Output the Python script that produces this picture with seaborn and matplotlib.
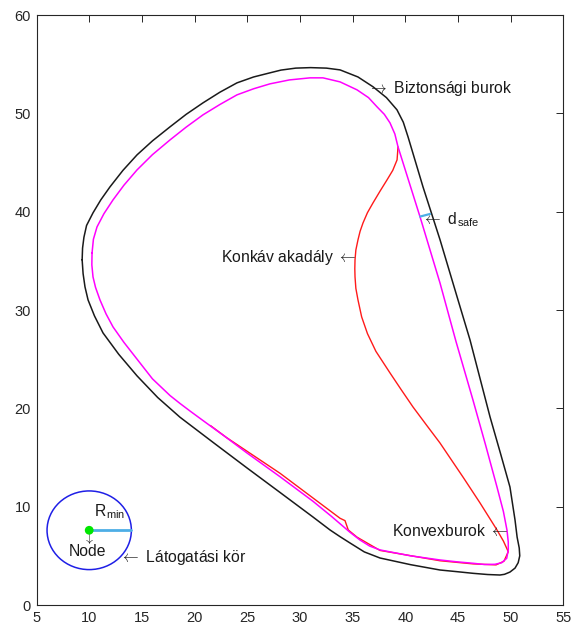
import matplotlib
matplotlib.use("Agg")
import matplotlib.pyplot as plt
from matplotlib.patches import Circle
import pandas as pd
import seaborn as sns

# Convex hull of the obstacle (clockwise, starting on the left side)
hull_x = [10.27, 10.40, 10.74, 11.40, 12.26, 13.30, 14.54, 16.00, 17.67, 19.20,
          20.80, 22.40, 24.02, 25.60, 27.15, 29.00, 30.95, 32.18, 33.80, 35.41,
          36.50, 37.31, 38.00, 38.54, 39.00, 39.30, 41.39, 43.28, 44.80, 46.41,
          47.60, 48.69, 49.30, 49.64, 49.76, 49.76, 49.61, 49.14, 48.50, 47.50,
          46.44, 44.80, 43.28, 40.50, 37.59, 36.60, 35.69, 34.74, 33.00, 31.23,
          28.10, 24.97, 22.80, 21.00, 19.60, 18.61, 17.67, 16.00, 14.54, 13.30,
          12.26, 11.60, 11.02, 10.60, 10.36, 10.25, 10.27]
hull_y = [35.81, 37.20, 38.45, 39.80, 41.20, 42.70, 44.25, 45.80, 47.30, 48.60,
          49.85, 50.90, 51.88, 52.50, 53.00, 53.40, 53.61, 53.61, 53.20, 52.39,
          51.60, 50.66, 49.90, 49.03, 47.90, 46.59, 39.47, 32.76, 26.80, 20.85,
          16.30, 12.00, 9.50, 7.60, 6.40, 5.60, 4.75, 4.30, 4.14, 4.12,
          4.24, 4.40, 4.58, 5.00, 5.60, 6.00, 6.61, 7.40, 9.00, 10.55,
          13.05, 15.46, 17.20, 18.60, 19.70, 20.50, 21.30, 23.00, 25.00, 26.70,
          28.28, 29.60, 31.03, 32.30, 33.37, 34.60, 35.81]

# Safety envelope around the hull
safe_x = [9.33, 9.37, 9.50, 9.75, 10.36, 11.10, 11.97, 13.20, 14.54, 16.00,
          17.67, 19.20, 20.80, 22.40, 24.02, 25.60, 27.15, 28.20, 29.60, 31.00,
          32.50, 33.80, 35.50, 36.93, 38.20, 39.20, 39.80, 40.25, 41.67, 43.29,
          44.99, 46.13, 48.03, 49.00, 49.92, 50.40, 50.60, 50.80, 50.85, 50.70,
          50.40, 49.92, 49.40, 48.97, 47.80, 46.44, 44.80, 43.28, 40.50, 37.59,
          36.10, 34.74, 33.80, 32.85, 31.23, 28.10, 24.97, 21.80, 18.61, 16.50,
          14.54, 12.80, 11.31, 10.50, 9.89, 9.60, 9.42, 9.33]
safe_y = [35.10, 36.30, 37.40, 38.60, 39.88, 41.20, 42.52, 44.20, 45.78, 47.20,
          48.63, 49.90, 51.07, 52.15, 53.10, 53.70, 54.12, 54.40, 54.60, 54.65,
          54.60, 54.42, 53.70, 52.70, 51.60, 50.36, 49.10, 47.61, 42.52, 37.13,
          31.03, 26.96, 19.13, 15.50, 12.00, 8.65, 6.90, 5.80, 5.00, 4.30,
          3.75, 3.35, 3.12, 3.05, 3.10, 3.22, 3.40, 3.56, 4.10, 4.78,
          5.40, 6.31, 6.95, 7.63, 8.95, 11.45, 13.94, 16.50, 19.10, 21.10,
          23.30, 25.50, 27.67, 29.40, 31.03, 32.35, 33.70, 35.10]

# Concave obstacle boundary (the part that leaves the hull)
obst_x = [39.30, 39.21, 38.80, 38.26, 37.60, 36.93, 36.40, 35.98, 35.70, 35.50,
          35.30, 35.22, 35.20, 35.22, 35.30, 35.50, 35.85, 36.40, 37.20, 38.54,
          39.60, 40.72, 42.00, 43.28, 44.40, 45.46, 47.08, 48.69, 49.30, 49.76,
          49.35, 48.60, 46.44, 43.28, 37.59, 35.41, 34.58, 34.27, 33.80, 28.10,
          23.00, 21.50]
obst_y = [46.59, 45.27, 44.20, 43.24, 42.10, 40.90, 39.90, 38.86, 38.00, 37.13,
          36.10, 35.10, 34.20, 33.37, 32.20, 31.03, 29.30, 27.60, 25.80, 23.60,
          21.90, 20.14, 18.30, 16.48, 14.70, 13.02, 10.38, 7.63, 6.50, 5.42,
          4.45, 4.08, 4.18, 4.50, 5.55, 6.90, 7.63, 8.58, 8.82, 13.40,
          17.05, 18.25]

# Visiting circle around the node
node_x, node_y = 10.0, 7.6
r_min = 4.0

# d_safe marker between hull and envelope
dsafe_x = [41.39, 42.34]
dsafe_y = [39.50, 39.77]

x_ticks = [5, 10, 15, 20, 25, 30, 35, 40, 45, 50, 55]
y_ticks = [0, 10, 20, 30, 40, 50, 60]

sns.set_style("white")
plt.rcParams["font.family"] = ["Liberation Sans", "DejaVu Sans"]
plt.rcParams["mathtext.fontset"] = "custom"
plt.rcParams["mathtext.rm"] = "Liberation Sans"
plt.rcParams["mathtext.it"] = "Liberation Sans"

fig = plt.figure(figsize=(5.74, 6.31), dpi=100)
ax = fig.add_axes([0.0636, 0.0412, 0.9181, 0.935])

hull = pd.DataFrame({"x": hull_x, "y": hull_y})
safe = pd.DataFrame({"x": safe_x, "y": safe_y})
obst = pd.DataFrame({"x": obst_x, "y": obst_y})

sns.lineplot(data=safe, x="x", y="y", sort=False, estimator=None,
             color="#1a1a1a", lw=1.1, ax=ax)
sns.lineplot(data=obst, x="x", y="y", sort=False, estimator=None,
             color="#ff1a1a", lw=1.0, ax=ax)
sns.lineplot(data=hull, x="x", y="y", sort=False, estimator=None,
             color="#ff00ff", lw=1.1, ax=ax)

ax.add_patch(Circle((node_x, node_y), r_min, fill=False, ec="#1f1fe6", lw=1.1))
sns.lineplot(x=[node_x, node_x + r_min], y=[node_y, node_y], sort=False,
             estimator=None, color="#4daee6", lw=2.0, ax=ax)
sns.scatterplot(x=[node_x], y=[node_y], color="#00e600", s=40, edgecolor="none",
                ax=ax, zorder=5)
sns.lineplot(x=dsafe_x, y=dsafe_y, sort=False, estimator=None,
             color="#4daee6", lw=1.6, ax=ax)

fs = 11.3
# arrows come from the Computer Modern math font, text stays in Liberation Sans
txt = dict(fontsize=fs, color="#1a1a1a", math_fontfamily="cm")
ax.text(36.45, 52.5, "$\\rightarrow$ Biztonsági burok", ha="left", va="center", **txt)
ax.text(41.6, 39.2, "$\\leftarrow$ d$_{\\mathregular{safe}}$", ha="left", va="center", **txt)
ax.text(35.3, 35.3, "Konkáv akadály $\\leftarrow$", ha="right", va="center", **txt)
ax.text(49.7, 7.5, "Konvexburok $\\leftarrow$", ha="right", va="center", **txt)
ax.text(12.95, 4.88, "$\\leftarrow$ Látogatási kör", ha="left", va="center", **txt)
ax.text(10.5, 8.98, "R$_{\\mathregular{min}}$", ha="left", va="baseline", **txt)
ax.text(node_x - 0.1, 6.85, "$\\downarrow$", ha="center", va="center", fontsize=10,
        color="#1a1a1a", math_fontfamily="cm")
ax.text(node_x - 0.2, 5.44, "Node", ha="center", va="center", fontsize=fs,
        color="#1a1a1a")

ax.set_xlim(5, 55)
ax.set_ylim(0, 60)
ax.set_xticks(x_ticks)
ax.set_yticks(y_ticks)
ax.set_xlabel("")
ax.set_ylabel("")
ax.tick_params(direction="in", length=5, width=0.7, top=True, right=True,
               labelsize=10.5, colors="#262626", pad=4)
for sp in ax.spines.values():
    sp.set_visible(True)
    sp.set_color("#262626")
    sp.set_linewidth(0.8)

fig.savefig("out.png", dpi=100)
